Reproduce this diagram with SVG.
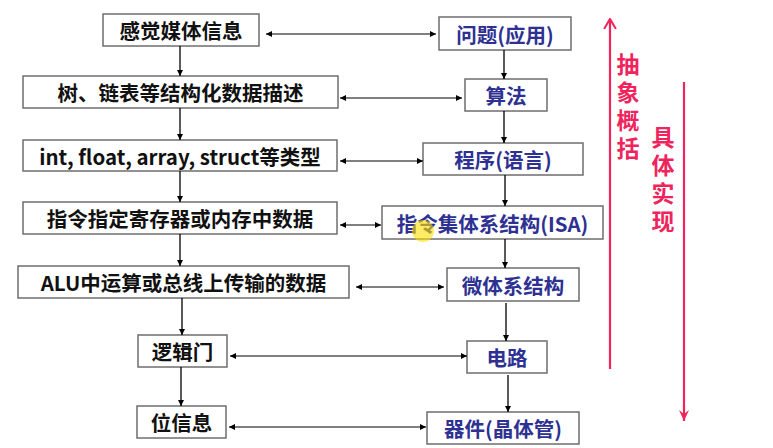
<svg xmlns="http://www.w3.org/2000/svg" width="773" height="448" viewBox="0 0 773 448">
<defs>
<marker id="ah" viewBox="0 0 10 10" refX="10" refY="5" markerWidth="7" markerHeight="6" markerUnits="userSpaceOnUse" orient="auto-start-reverse">
<path d="M0,0 L10,5 L0,10 z" fill="#000"/>
</marker>
<marker id="rh" viewBox="0 0 12 14" refX="11" refY="7" markerWidth="11" markerHeight="14" markerUnits="userSpaceOnUse" orient="auto">
<path d="M1,1 L11,7 L1,13" fill="none" stroke="#F0245C" stroke-width="2.2" stroke-linecap="round"/>
</marker>
<marker id="rh2" viewBox="0 0 12 12" refX="11" refY="6" markerWidth="12" markerHeight="12" markerUnits="userSpaceOnUse" orient="auto">
<path d="M0,1 L11,6 L0,11 L4,6 z" fill="#F0245C"/>
</marker>
</defs>
<style>
.box{fill:#fff;stroke:#6e6e6e;stroke-width:1.5}
.lt{font-family:"Noto Sans CJK SC","Noto Sans",sans-serif;font-weight:bold;font-size:20.5px;fill:#111;text-anchor:middle;dominant-baseline:central}
.rt{font-family:"Noto Sans CJK SC","Noto Sans",sans-serif;font-weight:bold;font-size:20.5px;fill:#2E3192;text-anchor:middle;dominant-baseline:central}
.red{font-family:"Noto Sans CJK SC",sans-serif;font-weight:bold;font-size:23px;fill:#F0245C;writing-mode:tb;letter-spacing:5px}
.ca{stroke:#000;stroke-width:1.3;fill:none;marker-end:url(#ah)}
.cd{stroke:#000;stroke-width:1;fill:none;marker-start:url(#ah);marker-end:url(#ah)}
</style>
<rect width="773" height="448" fill="#fff"/>

<g id="L1"><rect class="box" x="103" y="14" width="156" height="32"/><text class="lt" x="181" y="30">感觉媒体信息</text></g>
<g id="L2"><rect class="box" x="23" y="76" width="315" height="32"/><text class="lt" x="180.5" y="92">树、链表等结构化数据描述</text></g>
<g id="L3"><rect class="box" x="23" y="140" width="314" height="31"/><text class="lt" x="180" y="155.5">int, float, array, struct等类型</text></g>
<g id="L4"><rect class="box" x="23" y="202" width="314" height="32"/><text class="lt" x="180" y="218">指令指定寄存器或内存中数据</text></g>
<g id="L5"><rect class="box" x="18" y="266" width="331" height="32"/><text class="lt" x="183.5" y="282">ALU中运算或总线上传输的数据</text></g>
<g id="L6"><rect class="box" x="138" y="335" width="89" height="32"/><text class="lt" x="182.5" y="351">逻辑门</text></g>
<g id="L7"><rect class="box" x="137" y="406" width="89" height="32"/><text class="lt" x="181.5" y="422">位信息</text></g>

<g id="R1"><rect class="box" x="439" y="17" width="132" height="33"/><text class="rt" x="505" y="33.5">问题(应用)</text></g>
<g id="R2"><rect class="box" x="465" y="79" width="82" height="32"/><text class="rt" x="506" y="95">算法</text></g>
<g id="R3"><rect class="box" x="423" y="143" width="160" height="32"/><text class="rt" x="503" y="159">程序(语言)</text></g>
<g id="R4"><rect class="box" x="382" y="206" width="221" height="33"/><text class="rt" x="492.5" y="222.5">指令集体系结构(ISA)</text></g>
<g id="R5"><rect class="box" x="447" y="268" width="132" height="33"/><text class="rt" x="513" y="284.5">微体系结构</text></g>
<g id="R6"><rect class="box" x="467" y="341" width="80" height="32"/><text class="rt" x="507" y="357">电路</text></g>
<g id="R7"><rect class="box" x="427" y="412" width="152" height="32"/><text class="rt" x="503" y="428">器件(晶体管)</text></g>

<circle cx="423" cy="231" r="11" fill="#FFE000" opacity="0.6"/>

<g id="connectors">
<line class="ca" x1="180" y1="46" x2="180" y2="76"/>
<line class="ca" x1="180" y1="108" x2="180" y2="140"/>
<line class="ca" x1="180" y1="171" x2="180" y2="202"/>
<line class="ca" x1="180" y1="234" x2="180" y2="266"/>
<line class="ca" x1="182" y1="298" x2="182" y2="335"/>
<line class="ca" x1="181" y1="367" x2="181" y2="406"/>

<line class="ca" x1="504" y1="50" x2="504" y2="79"/>
<line class="ca" x1="504" y1="111" x2="504" y2="143"/>
<line class="ca" x1="505" y1="175" x2="505" y2="206"/>
<line class="ca" x1="505" y1="239" x2="505" y2="268"/>
<line class="ca" x1="506" y1="303" x2="506" y2="341"/>
<line class="ca" x1="508" y1="375" x2="508" y2="412"/>

<line class="cd" x1="266" y1="34" x2="436" y2="34"/>
<line class="cd" x1="340" y1="98" x2="462" y2="98"/>
<line class="cd" x1="340" y1="161" x2="423" y2="161"/>
<line class="cd" x1="340" y1="225" x2="381" y2="225"/>
<line class="cd" x1="356" y1="287" x2="444" y2="287"/>
<line class="cd" x1="230" y1="356" x2="467" y2="356"/>
<line class="cd" x1="229" y1="427" x2="426" y2="427"/>
</g>

<g id="abstract">
<line x1="610" y1="369" x2="610" y2="19" stroke="#F0245C" stroke-width="2.2" marker-end="url(#rh)"/>
<text class="red" x="628" y="53">抽象概括</text>
</g>
<g id="implement">
<line x1="684" y1="82" x2="684" y2="421" stroke="#F0245C" stroke-width="2.2" marker-end="url(#rh2)"/>
<text class="red" x="663" y="126">具体实现</text>
</g>
</svg>
